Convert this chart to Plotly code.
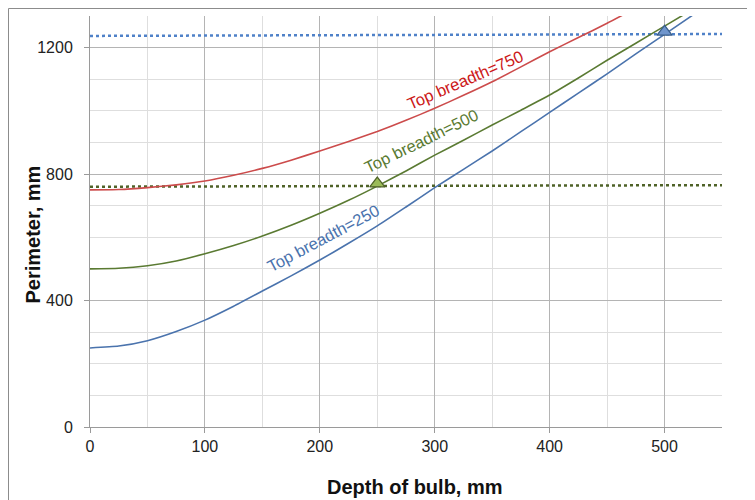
import plotly.graph_objects as go

# Data
depth = [0, 25, 50, 75, 100, 125, 150, 175, 200, 225, 250, 275, 300,
         325, 350, 375, 400, 425, 450, 475, 500, 525]
perim_250 = [250, 256, 273, 302, 338, 382, 430, 478, 528, 581, 636, 696, 757,
             815, 873, 934, 995, 1056, 1117, 1180, 1242, 1304]
perim_500 = [500, 502, 510, 525, 548, 574, 604, 638, 676, 717, 762, 810, 860,
             907, 955, 1002, 1050, 1104, 1160, 1214, 1268, 1322]
depth_750 = [0, 25, 50, 75, 100, 125, 150, 175, 200, 225, 250, 275, 300,
             325, 350, 375, 400, 425, 450, 475]
perim_750 = [750, 751, 757, 766, 778, 796, 818, 844, 873, 903, 935, 970, 1008,
             1049, 1092, 1139, 1187, 1232, 1277, 1325]

ref_x = [0, 550]
ref_blue = [1237, 1243]
ref_green = [760, 765]

mark_blue = ([500], [1250])
mark_green = ([250], [770])

labels = ["Top breadth=250", "Top breadth=500", "Top breadth=750"]
label_pos = [(203, 598, -28), (288, 905, -26), (326, 1098, -23.5)]

x_title = "Depth of bulb, mm"
y_title = "Perimeter, mm"

BLUE = "#4a73ad"
GREEN = "#5a7a32"
RED = "#cc4b4b"
LBL_RED = "#cc1818"

# plot-area geometry in figure pixels (used for paper-coordinate placement)
L, T, W, H = 82, 8, 632, 411

fig = go.Figure()

fig.add_trace(go.Scatter(x=ref_x, y=ref_blue, mode="lines",
                         line=dict(color="#4f81c8", width=2.5, dash="dot"), hoverinfo="skip"))
fig.add_trace(go.Scatter(x=ref_x, y=ref_green, mode="lines",
                         line=dict(color="#4f6228", width=2.5, dash="dot"), hoverinfo="skip"))

fig.add_trace(go.Scatter(x=depth, y=perim_250, mode="lines",
                         line=dict(color=BLUE, width=1.6, shape="spline", smoothing=0.5)))
fig.add_trace(go.Scatter(x=depth, y=perim_500, mode="lines",
                         line=dict(color=GREEN, width=1.6, shape="spline", smoothing=0.5)))
fig.add_trace(go.Scatter(x=depth_750, y=perim_750, mode="lines",
                         line=dict(color=RED, width=1.6, shape="spline", smoothing=0.5)))

fig.add_trace(go.Scatter(x=mark_blue[0], y=mark_blue[1], mode="markers",
                         marker=dict(symbol="triangle-up", size=13, color="#6f95cc",
                                     line=dict(color="#385d8a", width=1.2))))
fig.add_trace(go.Scatter(x=mark_green[0], y=mark_green[1], mode="markers",
                         marker=dict(symbol="triangle-up", size=13, color="#9bbb59",
                                     line=dict(color="#4f6228", width=1.2))))

for (lx, ly, ang), txt, col in zip(label_pos, labels, [BLUE, GREEN, LBL_RED]):
    fig.add_annotation(x=lx, y=ly, text=txt, showarrow=False, textangle=ang,
                       font=dict(family="Liberation Sans, Arial", size=16.5, color=col))

# axis titles as annotations
fig.add_annotation(xref="paper", yref="paper", x=(407 - L) / W, y=(T + H - 479) / H,
                   xanchor="center", yanchor="middle",
                   text="<b>" + x_title + "</b>", showarrow=False,
                   font=dict(family="Liberation Sans, Arial", size=20, color="#111"))
fig.add_annotation(xref="paper", yref="paper", x=(24.5 - L) / W, y=(T + H - 227) / H,
                   xanchor="center", yanchor="middle",
                   text="<b>" + y_title + "</b>", showarrow=False, textangle=-90,
                   font=dict(family="Liberation Sans, Arial", size=20, color="#111"))

# outer border
fig.add_shape(type="rect", xref="paper", yref="paper",
              x0=(0.5 - L) / W, x1=(780 - L) / W,
              y0=(T + H - 520) / H, y1=(T + H - 0.5) / H,
              line=dict(color="#8c8c8c", width=1), fillcolor="rgba(0,0,0,0)", layer="below")

fig.update_layout(
    width=755, height=500,
    margin=dict(l=L, r=755 - L - W, t=T, b=500 - T - H),
    paper_bgcolor="white", plot_bgcolor="white",
    showlegend=False,
    font=dict(family="Liberation Sans, Arial", size=16, color="#222"),
)
fig.update_xaxes(
    range=[0, 550], dtick=100, tick0=0,
    showgrid=True, gridcolor="#b4b4b4", gridwidth=1,
    minor=dict(dtick=50, showgrid=True, gridcolor="#dedede", gridwidth=1),
    showline=True, linecolor="#9a9a9a", linewidth=1,
    ticks="outside", ticklen=5, tickcolor="#9a9a9a",
    zeroline=False,
)
fig.update_yaxes(
    range=[0, 1300], dtick=400, tick0=0,
    showgrid=True, gridcolor="#b4b4b4", gridwidth=1,
    minor=dict(dtick=100, showgrid=True, gridcolor="#dedede", gridwidth=1),
    showline=True, linecolor="#9a9a9a", linewidth=1,
    ticks="outside", ticklen=5, tickcolor="#9a9a9a",
    ticklabelstandoff=8,
    zeroline=False,
)

fig.write_html("out.html")
